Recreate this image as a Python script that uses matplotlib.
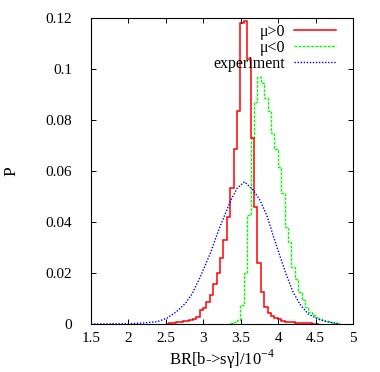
import numpy as np
import matplotlib
matplotlib.use("Agg")
import matplotlib.pyplot as plt
from matplotlib.lines import Line2D
from matplotlib.ticker import FormatStrFormatter, MultipleLocator

# histogram bins
bin_width = 0.0454

red_start = 2.497
red_p = [0.0002, 0.0003, 0.0004, 0.0006, 0.0008, 0.001, 0.0012, 0.0016, 0.002, 0.0028,
         0.0055, 0.0062, 0.0085, 0.0114, 0.0157, 0.0199, 0.0258, 0.033, 0.042, 0.0532,
         0.0685, 0.0834,
         0.118, 0.1188, 0.104, 0.073, 0.046, 0.024, 0.0127, 0.0065, 0.0044, 0.0031,
         0.0025, 0.0018, 0.0012, 0.0009, 0.0008, 0.0006, 0.0005, 0.0003, 0.0003, 0.0003,
         0.0003, 0.0002, 0.0001]

green_start = 3.314
green_p = [0.0002, 0.0004, 0.0008, 0.0016,
           0.0075, 0.0199, 0.0427, 0.0728, 0.087, 0.0969, 0.0944, 0.0885, 0.0837, 0.075,
           0.0685, 0.0615, 0.0515, 0.0382, 0.0323, 0.0225, 0.0175, 0.0127, 0.0094, 0.0068,
           0.0048, 0.0035, 0.0028, 0.002, 0.0016, 0.0011, 0.0008, 0.0005, 0.0003, 0.0002]

# experiment curve
exp_x = [1.5, 2.0, 2.2, 2.38, 2.51, 2.64, 2.76, 2.85, 2.96, 3.09, 3.22, 3.36, 3.45, 3.55,
         3.67, 3.76, 3.85, 3.93, 4.02, 4.11, 4.2, 4.29, 4.4, 4.52, 4.65, 4.8]
exp_p = [0.0, 0.0001, 0.0004, 0.0009, 0.0022, 0.0048, 0.0081, 0.0118, 0.0185, 0.0275,
         0.038, 0.048, 0.0532, 0.0558, 0.0524, 0.0484, 0.0425, 0.035, 0.027, 0.0192,
         0.0125, 0.0078, 0.004, 0.002, 0.0009, 0.0002]

labels = ['μ>0', 'μ<0', 'experiment']

plt.rcParams['font.family'] = ['Liberation Serif', 'DejaVu Serif']
plt.rcParams['mathtext.fontset'] = 'custom'
plt.rcParams['mathtext.rm'] = 'Liberation Serif'
plt.rcParams['font.size'] = 11

fig = plt.figure(figsize=(3.8, 3.72), dpi=100)
ax = fig.add_axes([0.2395, 0.129, 0.6895, 0.8225])

red_edges = red_start + bin_width * np.arange(len(red_p) + 1)
green_edges = green_start + bin_width * np.arange(len(green_p) + 1)

green_ls = (0, (2, 1))
blue_ls = (0, (1, 1.2))

ax.stairs(green_p, green_edges, color='#00ff00', lw=1.0, linestyle=green_ls)
ax.stairs(red_p, red_edges, color='red', lw=1.1)
ax.plot(exp_x, exp_p, color='blue', lw=1.0, linestyle=blue_ls)

ax.set_xlim(1.5, 5)
ax.set_ylim(0, 0.12)
ax.xaxis.set_major_locator(MultipleLocator(0.5))
ax.yaxis.set_major_locator(MultipleLocator(0.02))
ax.xaxis.set_major_formatter(FormatStrFormatter('%g'))
ax.yaxis.set_major_formatter(FormatStrFormatter('%g'))
ax.tick_params(direction='in', top=True, right=True, length=3.6, width=0.7,
               labelsize=11)
ax.tick_params(axis='x', pad=6)
ax.tick_params(axis='y', pad=13.5)
for s in ax.spines.values():
    s.set_linewidth(0.8)

ax.set_xlabel('BR[b->sγ]/10$^{-4}$', fontsize=12)
ax.xaxis.set_label_coords(0.5, -0.078)
ax.set_ylabel('P', fontsize=12.5)
ax.yaxis.set_label_coords(-0.275, 0.5)

handles = [Line2D([], [], color='red', lw=1.1),
           Line2D([], [], color='#00ff00', lw=1.0, linestyle=green_ls),
           Line2D([], [], color='blue', lw=1.0, linestyle=blue_ls)]
ax.legend(handles, labels, loc='upper right', bbox_to_anchor=(0.965, 1.008),
          frameon=False, markerfirst=False, borderpad=0, handlelength=2.6,
          handletextpad=0.6, labelspacing=0.0, fontsize=11.5)

fig.savefig('out.png', dpi=100)
